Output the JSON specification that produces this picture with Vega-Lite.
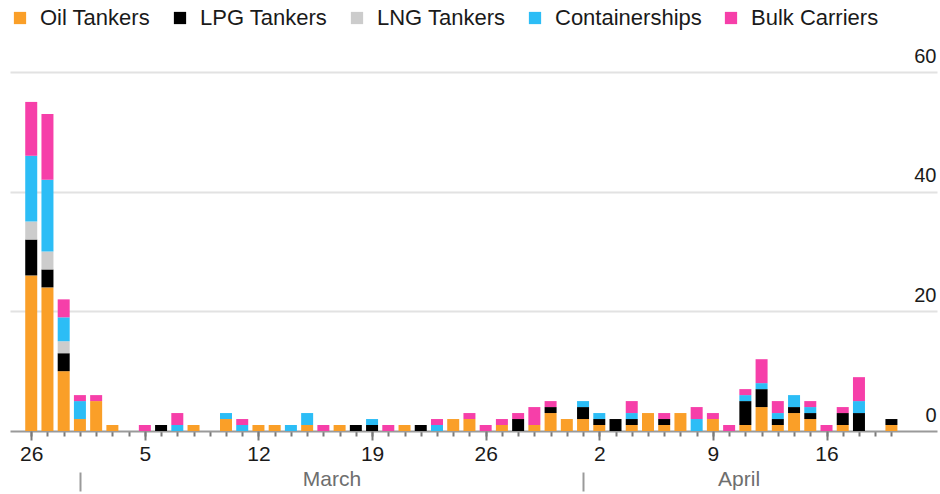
{
  "$schema": "https://vega.github.io/schema/vega-lite/v6.json",
  "width": 927,
  "height": 359,
  "autosize": {"type": "none"},
  "padding": {"left": 10, "top": 72, "right": 3, "bottom": 63},
  "config": {"view": {"stroke": null}, "font": "Liberation Sans"},
  "data": {
    "format": {"parse": {"d": "date:'%Y-%m-%d'"}},
    "values": [
      {"d": "2026-02-26", "t": "Oil Tankers", "n": 26},
      {"d": "2026-02-26", "t": "LPG Tankers", "n": 6},
      {"d": "2026-02-26", "t": "LNG Tankers", "n": 3},
      {"d": "2026-02-26", "t": "Containerships", "n": 11},
      {"d": "2026-02-26", "t": "Bulk Carriers", "n": 9},
      {"d": "2026-02-27", "t": "Oil Tankers", "n": 24},
      {"d": "2026-02-27", "t": "LPG Tankers", "n": 3},
      {"d": "2026-02-27", "t": "LNG Tankers", "n": 3},
      {"d": "2026-02-27", "t": "Containerships", "n": 12},
      {"d": "2026-02-27", "t": "Bulk Carriers", "n": 11},
      {"d": "2026-02-28", "t": "Oil Tankers", "n": 10},
      {"d": "2026-02-28", "t": "LPG Tankers", "n": 3},
      {"d": "2026-02-28", "t": "LNG Tankers", "n": 2},
      {"d": "2026-02-28", "t": "Containerships", "n": 4},
      {"d": "2026-02-28", "t": "Bulk Carriers", "n": 3},
      {"d": "2026-03-01", "t": "Oil Tankers", "n": 2},
      {"d": "2026-03-01", "t": "Containerships", "n": 3},
      {"d": "2026-03-01", "t": "Bulk Carriers", "n": 1},
      {"d": "2026-03-02", "t": "Oil Tankers", "n": 5},
      {"d": "2026-03-02", "t": "Bulk Carriers", "n": 1},
      {"d": "2026-03-03", "t": "Oil Tankers", "n": 1},
      {"d": "2026-03-05", "t": "Bulk Carriers", "n": 1},
      {"d": "2026-03-06", "t": "LPG Tankers", "n": 1},
      {"d": "2026-03-07", "t": "Containerships", "n": 1},
      {"d": "2026-03-07", "t": "Bulk Carriers", "n": 2},
      {"d": "2026-03-08", "t": "Oil Tankers", "n": 1},
      {"d": "2026-03-10", "t": "Oil Tankers", "n": 2},
      {"d": "2026-03-10", "t": "Containerships", "n": 1},
      {"d": "2026-03-11", "t": "Containerships", "n": 1},
      {"d": "2026-03-11", "t": "Bulk Carriers", "n": 1},
      {"d": "2026-03-12", "t": "Oil Tankers", "n": 1},
      {"d": "2026-03-13", "t": "Oil Tankers", "n": 1},
      {"d": "2026-03-14", "t": "Containerships", "n": 1},
      {"d": "2026-03-15", "t": "Oil Tankers", "n": 1},
      {"d": "2026-03-15", "t": "Containerships", "n": 2},
      {"d": "2026-03-16", "t": "Bulk Carriers", "n": 1},
      {"d": "2026-03-17", "t": "Oil Tankers", "n": 1},
      {"d": "2026-03-18", "t": "LPG Tankers", "n": 1},
      {"d": "2026-03-19", "t": "LPG Tankers", "n": 1},
      {"d": "2026-03-19", "t": "Containerships", "n": 1},
      {"d": "2026-03-20", "t": "Bulk Carriers", "n": 1},
      {"d": "2026-03-21", "t": "Oil Tankers", "n": 1},
      {"d": "2026-03-22", "t": "LPG Tankers", "n": 1},
      {"d": "2026-03-23", "t": "Containerships", "n": 1},
      {"d": "2026-03-23", "t": "Bulk Carriers", "n": 1},
      {"d": "2026-03-24", "t": "Oil Tankers", "n": 2},
      {"d": "2026-03-25", "t": "Oil Tankers", "n": 2},
      {"d": "2026-03-25", "t": "Bulk Carriers", "n": 1},
      {"d": "2026-03-26", "t": "Bulk Carriers", "n": 1},
      {"d": "2026-03-27", "t": "Oil Tankers", "n": 1},
      {"d": "2026-03-27", "t": "Bulk Carriers", "n": 1},
      {"d": "2026-03-28", "t": "LPG Tankers", "n": 2},
      {"d": "2026-03-28", "t": "Bulk Carriers", "n": 1},
      {"d": "2026-03-29", "t": "Oil Tankers", "n": 1},
      {"d": "2026-03-29", "t": "Bulk Carriers", "n": 3},
      {"d": "2026-03-30", "t": "Oil Tankers", "n": 3},
      {"d": "2026-03-30", "t": "LPG Tankers", "n": 1},
      {"d": "2026-03-30", "t": "Bulk Carriers", "n": 1},
      {"d": "2026-03-31", "t": "Oil Tankers", "n": 2},
      {"d": "2026-04-01", "t": "Oil Tankers", "n": 2},
      {"d": "2026-04-01", "t": "LPG Tankers", "n": 2},
      {"d": "2026-04-01", "t": "Containerships", "n": 1},
      {"d": "2026-04-02", "t": "Oil Tankers", "n": 1},
      {"d": "2026-04-02", "t": "LPG Tankers", "n": 1},
      {"d": "2026-04-02", "t": "Containerships", "n": 1},
      {"d": "2026-04-03", "t": "LPG Tankers", "n": 2},
      {"d": "2026-04-04", "t": "Oil Tankers", "n": 1},
      {"d": "2026-04-04", "t": "LPG Tankers", "n": 1},
      {"d": "2026-04-04", "t": "Containerships", "n": 1},
      {"d": "2026-04-04", "t": "Bulk Carriers", "n": 2},
      {"d": "2026-04-05", "t": "Oil Tankers", "n": 3},
      {"d": "2026-04-06", "t": "Oil Tankers", "n": 1},
      {"d": "2026-04-06", "t": "LPG Tankers", "n": 1},
      {"d": "2026-04-06", "t": "Bulk Carriers", "n": 1},
      {"d": "2026-04-07", "t": "Oil Tankers", "n": 3},
      {"d": "2026-04-08", "t": "Containerships", "n": 2},
      {"d": "2026-04-08", "t": "Bulk Carriers", "n": 2},
      {"d": "2026-04-09", "t": "Oil Tankers", "n": 2},
      {"d": "2026-04-09", "t": "Bulk Carriers", "n": 1},
      {"d": "2026-04-10", "t": "Bulk Carriers", "n": 1},
      {"d": "2026-04-11", "t": "Oil Tankers", "n": 1},
      {"d": "2026-04-11", "t": "LPG Tankers", "n": 4},
      {"d": "2026-04-11", "t": "Containerships", "n": 1},
      {"d": "2026-04-11", "t": "Bulk Carriers", "n": 1},
      {"d": "2026-04-12", "t": "Oil Tankers", "n": 4},
      {"d": "2026-04-12", "t": "LPG Tankers", "n": 3},
      {"d": "2026-04-12", "t": "Containerships", "n": 1},
      {"d": "2026-04-12", "t": "Bulk Carriers", "n": 4},
      {"d": "2026-04-13", "t": "Oil Tankers", "n": 1},
      {"d": "2026-04-13", "t": "LPG Tankers", "n": 1},
      {"d": "2026-04-13", "t": "Containerships", "n": 1},
      {"d": "2026-04-13", "t": "Bulk Carriers", "n": 2},
      {"d": "2026-04-14", "t": "Oil Tankers", "n": 3},
      {"d": "2026-04-14", "t": "LPG Tankers", "n": 1},
      {"d": "2026-04-14", "t": "Containerships", "n": 2},
      {"d": "2026-04-15", "t": "Oil Tankers", "n": 2},
      {"d": "2026-04-15", "t": "LPG Tankers", "n": 1},
      {"d": "2026-04-15", "t": "Containerships", "n": 1},
      {"d": "2026-04-15", "t": "Bulk Carriers", "n": 1},
      {"d": "2026-04-16", "t": "Bulk Carriers", "n": 1},
      {"d": "2026-04-17", "t": "Oil Tankers", "n": 1},
      {"d": "2026-04-17", "t": "LPG Tankers", "n": 2},
      {"d": "2026-04-17", "t": "Bulk Carriers", "n": 1},
      {"d": "2026-04-18", "t": "LPG Tankers", "n": 3},
      {"d": "2026-04-18", "t": "Containerships", "n": 2},
      {"d": "2026-04-18", "t": "Bulk Carriers", "n": 4},
      {"d": "2026-04-20", "t": "Oil Tankers", "n": 1},
      {"d": "2026-04-20", "t": "LPG Tankers", "n": 1}
    ]
  },
  "resolve": {"axis": {"x": "independent"}},
  "layer": [
    {
      "mark": {"type": "bar", "width": 12},
      "encoding": {
        "x": {
          "field": "d", "type": "temporal",
          "scale": {"domain": [{"year": 2026, "month": 2, "date": 25}, {"year": 2026, "month": 4, "date": 22, "hours": 12}]},
          "axis": {
            "orient": "bottom", "title": null, "grid": false, "labels": false,
            "tickCount": {"interval": "day", "step": 1},
            "tickSize": 5, "tickWidth": 2, "tickColor": "#7a7a7a",
            "tickOpacity": {"condition": {"test": "datum.value < datetime(2026,1,26) || datum.value > datetime(2026,3,20,1)", "value": 0}, "value": 1},
            "domain": true, "domainColor": "#9a9a9a", "domainWidth": 2
          }
        },
        "y": {
          "field": "n", "type": "quantitative", "stack": "zero",
          "scale": {"domain": [0, 60], "nice": false},
          "axis": {
            "orient": "right", "title": null, "values": [0, 20, 40, 60],
            "ticks": false, "tickSize": 0, "domain": false,
            "labelAlign": "right", "labelBaseline": "alphabetic", "labelPadding": -1, "labelOffset": -10,
            "labelFontSize": 20, "labelColor": "#1a1a1a",
            "grid": true, "gridWidth": 2,
            "gridColor": {"condition": {"test": "datum.value === 0", "value": "transparent"}, "value": "#e2e2e2"}
          }
        },
        "color": {
          "field": "t", "type": "nominal",
          "sort": ["Oil Tankers", "LPG Tankers", "LNG Tankers", "Containerships", "Bulk Carriers"],
          "scale": {
            "domain": ["Oil Tankers", "LPG Tankers", "LNG Tankers", "Containerships", "Bulk Carriers"],
            "range": ["#fa9f28", "#000000", "#cccccc", "#2cbdf6", "#f63fa9"]
          },
          "legend": {
            "orient": "none", "legendX": -1, "legendY": -65, "direction": "horizontal", "columns": 5,
            "title": null, "symbolType": "square", "symbolSize": 150, "symbolStrokeWidth": 0,
            "labelFontSize": 22, "labelColor": "#1a1a1a", "labelOffset": 9, "columnPadding": 18,
            "padding": 0, "labelLimit": 300
          }
        }
      }
    },
    {
      "mark": {"type": "point", "opacity": 0},
      "encoding": {
        "x": {
          "field": "d", "type": "temporal",
          "scale": {"domain": [{"year": 2026, "month": 2, "date": 25}, {"year": 2026, "month": 4, "date": 22, "hours": 12}]},
          "axis": {
            "orient": "bottom", "title": null, "grid": false, "domain": false,
            "values": [
              {"year": 2026, "month": 2, "date": 26},
              {"year": 2026, "month": 3, "date": 5},
              {"year": 2026, "month": 3, "date": 12},
              {"year": 2026, "month": 3, "date": 19},
              {"year": 2026, "month": 3, "date": 26},
              {"year": 2026, "month": 4, "date": 2},
              {"year": 2026, "month": 4, "date": 9},
              {"year": 2026, "month": 4, "date": 16}
            ],
            "format": "%-d",
            "tickSize": 9, "tickWidth": 2, "tickColor": "#7a7a7a",
            "labelFontSize": 21, "labelColor": "#1a1a1a", "labelPadding": 3
          }
        }
      }
    },
    {
      "mark": {"type": "point", "opacity": 0},
      "encoding": {
        "x": {
          "field": "d", "type": "temporal",
          "scale": {"domain": [{"year": 2026, "month": 2, "date": 25}, {"year": 2026, "month": 4, "date": 22, "hours": 12}]},
          "axis": {
            "orient": "bottom", "title": null, "grid": false, "domain": false, "labels": false,
            "offset": 41,
            "values": [{"year": 2026, "month": 3, "date": 1}, {"year": 2026, "month": 4, "date": 1}],
            "tickSize": 19, "tickWidth": 2, "tickColor": "#9a9a9a"
          }
        }
      }
    },
    {
      "mark": {"type": "point", "opacity": 0},
      "encoding": {
        "x": {
          "field": "d", "type": "temporal",
          "scale": {"domain": [{"year": 2026, "month": 2, "date": 25}, {"year": 2026, "month": 4, "date": 22, "hours": 12}]},
          "axis": {
            "orient": "bottom", "title": null, "grid": false, "domain": false,
            "offset": 37, "ticks": false, "tickSize": 0, "labelPadding": 0,
            "values": [{"year": 2026, "month": 3, "date": 16, "hours": 12}, {"year": 2026, "month": 4, "date": 10, "hours": 14}],
            "labelExpr": "timeFormat(datum.value, '%B')",
            "labelFontSize": 21, "labelColor": "#6e6e6e"
          }
        }
      }
    }
  ]
}
